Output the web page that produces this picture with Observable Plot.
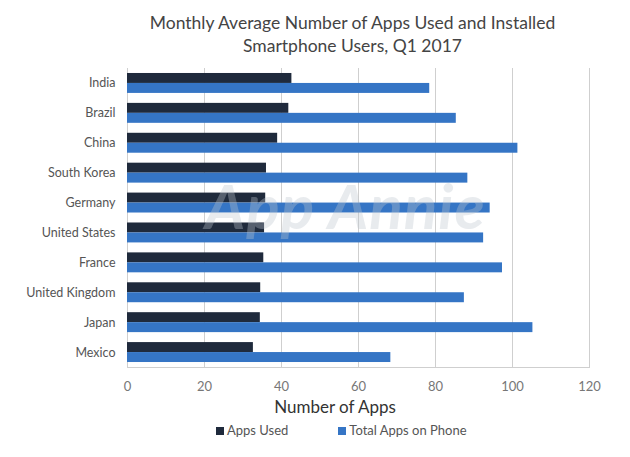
<!DOCTYPE html>
<html>
<head>
<meta charset="utf-8">
<script src="https://cdn.jsdelivr.net/npm/d3@7"></script>
<script src="https://cdn.jsdelivr.net/npm/@observablehq/plot@0.6"></script>
<style>
  body { margin: 0; background: #fff; font-family: Lato, "Open Sans", sans-serif; }
  #wrap { position: relative; width: 630px; height: 457px; }
  #title { width: 630px; box-sizing: border-box; padding: 11px 0 0 75px; text-align: center;
           font-size: 17.5px; line-height: 23px; color: #444; height: 56px; }
  #xlabel { width: 630px; box-sizing: border-box; padding-left: 40px; text-align: center;
            font-size: 17px; line-height: 20px; color: #333; }
  #legend { display: flex; gap: 50px; margin-left: 216px; margin-top: 5px; font-size: 13px; color: #555; }
  #legend span.sw { display: inline-block; width: 8px; height: 8px; margin-right: 3px; }
  #wm { position: absolute; left: 205px; top: 168px; font-size: 62px; font-weight: bold; font-style: italic;
        color: rgba(190,198,205,0.35); pointer-events: none; letter-spacing: 1px; }
</style>
</head>
<body>
<div id="wrap">
  <div id="title">Monthly Average Number of Apps Used and Installed<br>Smartphone Users, Q1 2017</div>
  <div id="chart"></div>
  <div id="xlabel">Number of Apps</div>
  <div id="legend"></div>
  <div id="wm">App Annie</div>
</div>
<script>
const countries = ["India","Brazil","China","South Korea","Germany","United States","France","United Kingdom","Japan","Mexico"];
const appsUsed = [42.7, 41.9, 39.0, 36.1, 35.9, 35.6, 35.4, 34.6, 34.5, 32.7];
const totalApps = [78.5, 85.4, 101.4, 88.4, 94.2, 92.5, 97.4, 87.5, 105.3, 68.4];
const seriesNames = ["Apps Used", "Total Apps on Phone"];
const seriesColors = ["#1f2a3c", "#3575c5"];
const xTicks = [0, 20, 40, 60, 80, 100, 120];

const rows = [];
countries.forEach((c, i) => {
  rows.push({country: c, series: seriesNames[0], key: c + "|A", value: appsUsed[i]});
  rows.push({country: c, series: seriesNames[1], key: c + "|T", value: totalApps[i]});
});
const yDomain = [];
countries.forEach((c, i) => {
  yDomain.push(c + "|A", c + "|T");
  if (i < countries.length - 1) yDomain.push(c + "|_");
});

const chart = Plot.plot({
  width: 630,
  height: 341,
  marginLeft: 127,
  marginRight: 41,
  marginTop: 12,
  marginBottom: 30,
  style: {fontFamily: "Lato, 'Open Sans', sans-serif", background: "transparent"},
  x: {domain: [0, 120], ticks: xTicks, label: null},
  y: {domain: yDomain, paddingInner: 0, paddingOuter: 0.5, round: false, axis: null},
  color: {domain: seriesNames, range: seriesColors},
  marks: [
    Plot.ruleX(xTicks, {stroke: "#cfcfcf", strokeWidth: 1}),
    Plot.frame({anchor: "bottom", stroke: "#cfcfcf"}),
    Plot.barX(rows, {x: "value", y: "key", fill: "series", inset: 0}),
    Plot.axisX({ticks: xTicks, tickSize: 0, tickPadding: 14, fontSize: 13, color: "#777", label: null}),
    Plot.text(countries, {x: 0, y: d => d + "|A", text: d => d, textAnchor: "end", dx: -12, dy: 5, fontSize: 12.5, fill: "#555"})
  ]
});
document.getElementById("chart").appendChild(chart);

const legend = document.getElementById("legend");
seriesNames.forEach((s, i) => {
  const item = document.createElement("div");
  item.innerHTML = `<span class="sw" style="background:${seriesColors[i]}"></span>${s}`;
  legend.appendChild(item);
});
</script>
</body>
</html>
